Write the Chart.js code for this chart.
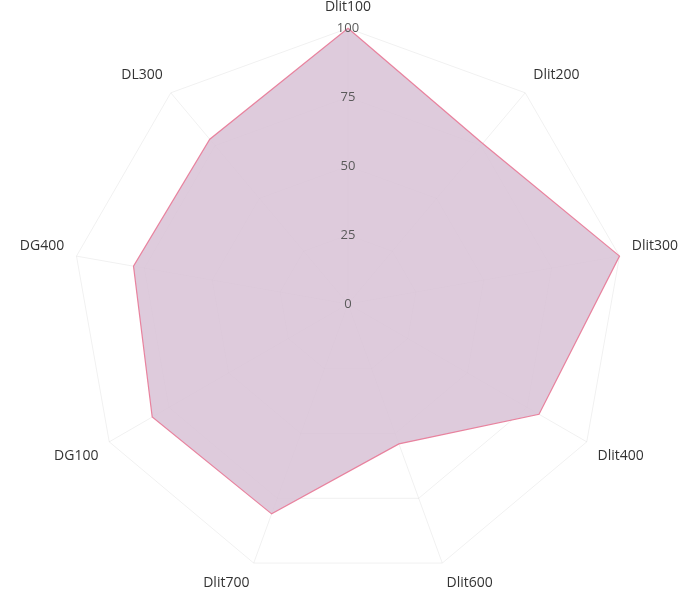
<!DOCTYPE html>
<html>
<head>
<meta charset="utf-8">
<script src="https://cdn.jsdelivr.net/npm/chart.js@4"></script>
<style>
  html, body { margin: 0; padding: 0; background: #fff; overflow: hidden; }
  #view { width: 684px; height: 589px; position: relative; overflow: hidden; }
  #wrap { width: 706px; height: 611px; position: absolute; left: -5px; top: -10px; }
</style>
</head>
<body>
<div id="view"><div id="wrap"><canvas id="c"></canvas></div></div>
<script>
const categories = ['Dlit100', 'Dlit200', 'Dlit300', 'Dlit400', 'Dlit600', 'Dlit700', 'DG100', 'DG400', 'DL300'];
const seriesValues = [100, 76, 100, 80, 54, 81, 82, 79, 78];
const tickValues = [0, 25, 50, 75, 100];

new Chart(document.getElementById('c'), {
  type: 'radar',
  data: {
    labels: categories,
    datasets: [{
      label: 'Series',
      data: seriesValues,
      backgroundColor: 'rgba(216, 194, 214, 0.85)',
      borderColor: 'rgba(232, 120, 150, 0.9)',
      borderWidth: 1.2,
      pointRadius: 0,
      fill: true
    }]
  },
  options: {
    responsive: true,
    maintainAspectRatio: false,
    animation: false,
    layout: { padding: 0 },
    plugins: { legend: { display: false }, tooltip: { enabled: false } },
    scales: {
      r: {
        min: tickValues[0] - 0.01,
        max: tickValues[tickValues.length - 1],
        afterBuildTicks: (axis) => { axis.ticks = tickValues.map(v => ({ value: v })); },
        ticks: {
          display: true,
          showLabelBackdrop: false,
          color: '#5a5a5a',
          font: { family: 'Open Sans', size: 13 },
          z: 1
        },
        grid: { color: 'rgba(0,0,0,0.06)', lineWidth: 1 },
        angleLines: { color: 'rgba(0,0,0,0.06)', lineWidth: 1 },
        pointLabels: {
          color: '#333',
          font: { family: 'Open Sans', size: 14 },
          padding: 4
        }
      }
    }
  }
});
</script>
</body>
</html>
